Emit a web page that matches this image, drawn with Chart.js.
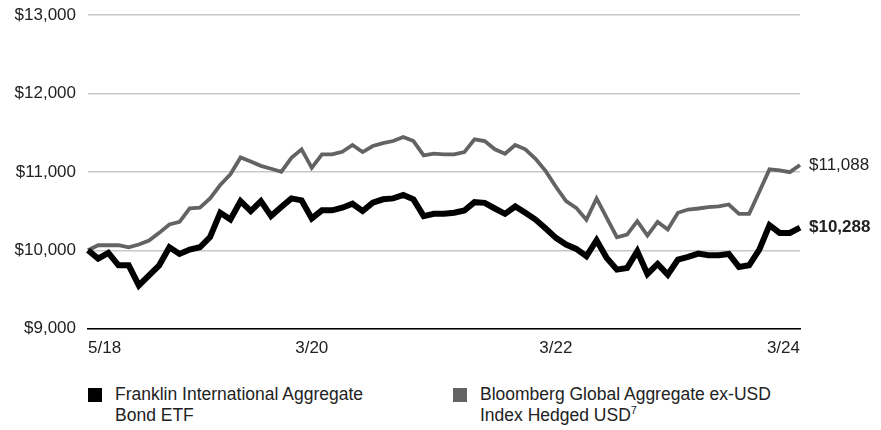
<!DOCTYPE html>
<html>
<head>
<meta charset="utf-8">
<script src="https://cdn.jsdelivr.net/npm/chart.js@4.4.1/dist/chart.umd.min.js"></script>
<style>
  html, body { margin: 0; padding: 0; background: #fff; }
  #wrap { position: relative; width: 881px; height: 430px; overflow: hidden; }
  #chart { position: absolute; left: 0; top: -7px; }
  .legend { position: absolute; top: 384px; font-family: "Liberation Sans", Arial, sans-serif; font-size: 17.5px; line-height: 21px; color: #222; }
  .legend .box { position: absolute; left: 0; top: 4px; width: 14px; height: 14px; }
  .legend .txt { margin-left: 27px; }
  .legend sup { font-size: 11px; line-height: 0; }
</style>
</head>
<body>
<div id="wrap">
  <canvas id="chart" width="881" height="370"></canvas>
  <div class="legend" style="left:88px"><div class="box" style="background:#000"></div><div class="txt">Franklin International Aggregate<br>Bond ETF</div></div>
  <div class="legend" style="left:453px"><div class="box" style="background:#636363"></div><div class="txt">Bloomberg Global Aggregate ex-USD<br>Index Hedged USD<sup>7</sup></div></div>
</div>
<script>
// Monthly points, 5/18 through 3/24
const months = [];
for (let i = 0; i <= 70; i++) {
    const m = (4 + i) % 12 + 1;
    const y = 18 + Math.floor((4 + i) / 12);
    months.push(m + '/' + y);
}
const tickLabels = ['5/18', '3/20', '3/22', '3/24'];

const fundValues = [
    10000, 9893, 9966, 9808, 9808, 9551, 9680, 9808, 10038, 9953,
    10009, 10038, 10167, 10479, 10393, 10628, 10500, 10628, 10436, 10551,
    10662, 10637, 10406, 10509, 10509, 10543, 10594, 10500, 10607, 10650,
    10662, 10705, 10650, 10436, 10466, 10466, 10478, 10507, 10614, 10605,
    10533, 10465, 10559, 10478, 10392, 10277, 10158, 10073, 10017, 9923,
    10128, 9902, 9753, 9774, 9987, 9697, 9825, 9689, 9881, 9915,
    9957, 9936, 9936, 9953, 9787, 9808, 10009, 10320, 10221, 10221,
    10288
];
const indexValues = [
    10000, 10064, 10064, 10064, 10038, 10073, 10124, 10222, 10329, 10363,
    10534, 10543, 10662, 10833, 10970, 11184, 11132, 11077, 11040, 11001,
    11180, 11288, 11052, 11223, 11223, 11257, 11343, 11253, 11330, 11368,
    11394, 11445, 11394, 11210, 11232, 11223, 11224, 11253, 11416, 11394,
    11288, 11232, 11343, 11288, 11168, 11010, 10810, 10627, 10541, 10388,
    10661, 10413, 10166, 10200, 10371, 10188, 10362, 10264, 10478, 10520,
    10533, 10550, 10559, 10584, 10465, 10465, 10746, 11032, 11019, 10997,
    11088
];

const fontFamily = '"Liberation Sans", Arial, sans-serif';

// Draw the ending value next to the last point of each line
const endLabels = {
    id: 'endLabels',
    afterDatasetsDraw(chart) {
        const ctx = chart.ctx;
        chart.data.datasets.forEach((ds, i) => {
            const pt = chart.getDatasetMeta(i).data[ds.data.length - 1];
            ctx.save();
            ctx.font = (i === 0 ? 'bold ' : '') + '17px ' + fontFamily;
            ctx.fillStyle = '#222';
            ctx.textBaseline = 'middle';
            ctx.fillText('$' + ds.data[ds.data.length - 1].toLocaleString('en-US'), pt.x + 9, pt.y);
            ctx.restore();
        });
    }
};

new Chart(document.getElementById('chart'), {
    type: 'line',
    data: {
        labels: months,
        datasets: [{
            label: 'Franklin International Aggregate Bond ETF',
            data: fundValues,
            borderColor: '#000',
            borderWidth: 6,
            pointRadius: 0,
            tension: 0,
            order: 0
        }, {
            label: 'Bloomberg Global Aggregate ex-USD Index Hedged USD',
            data: indexValues,
            borderColor: '#636363',
            borderWidth: 3.8,
            pointRadius: 0,
            tension: 0,
            order: 1
        }]
    },
    options: {
        responsive: false,
        animation: false,
        layout: { padding: { left: 12, right: 81, top: 0, bottom: 2 } },
        plugins: { legend: { display: false }, tooltip: { enabled: false } },
        scales: {
            x: {
                grid: { display: false },
                border: { display: true, color: '#000', width: 1.5 },
                ticks: {
                    autoSkip: false,
                    maxRotation: 0,
                    align: 'inner',
                    padding: 2,
                    color: '#222',
                    font: { family: fontFamily, size: 17 },
                    callback: function (val) {
                        const lab = this.getLabelForValue(val);
                        return tickLabels.includes(lab) ? lab : null;
                    }
                }
            },
            y: {
                min: 9000,
                max: 13000,
                border: { display: false },
                grid: { color: '#c8c8c8', lineWidth: 1.5, drawTicks: false },
                afterFit: scale => { scale.width = 76; },
                ticks: {
                    stepSize: 1000,
                    padding: 12,
                    color: '#222',
                    font: { family: fontFamily, size: 17 },
                    callback: v => '$' + v.toLocaleString('en-US')
                }
            }
        }
    },
    plugins: [endLabels]
});
</script>
</body>
</html>
